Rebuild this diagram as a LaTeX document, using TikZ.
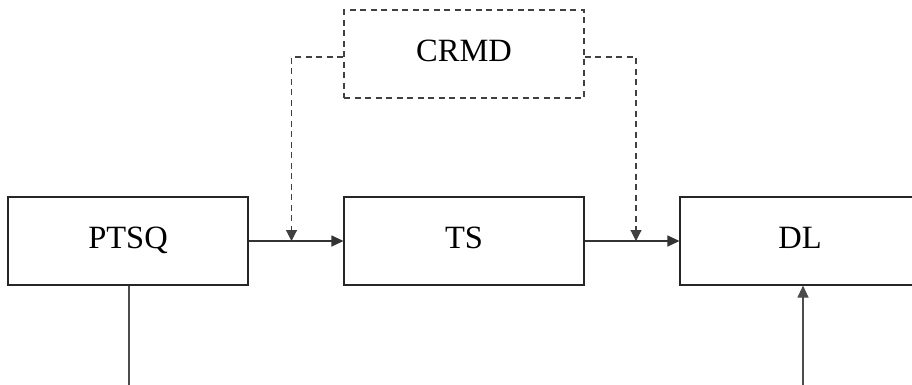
\documentclass[tikz,border=0pt]{standalone}
\usepackage{fontspec}
\setmainfont{Liberation Serif}
\usetikzlibrary{arrows.meta}
\begin{document}
\begin{tikzpicture}[x=1pt,y=-1pt,
  blockbox/.style={draw=black!85,line width=1.1pt,minimum width=240pt,minimum height=88pt,inner sep=0pt,
    font=\fontsize{32.5}{38}\selectfont,text height=22pt,text depth=8pt},
  dashbox/.style={blockbox,draw=black!75,dash pattern=on 6pt off 4.5pt},
  flow/.style={draw=black!80,line width=1.1pt,-{Triangle[length=12pt,width=11pt]}},
  ctrl/.style={draw=black!75,line width=1.1pt,dash pattern=on 6pt off 4.5pt,-{Triangle[length=11pt,width=11pt]}},
  plain/.style={draw=black!70,line width=1.1pt}]
\useasboundingbox (0,0) rectangle (912,384);
\clip (0,0) rectangle (912,384);
\node[blockbox] (ptsq) at (128,241) {PTSQ};
\node[blockbox] (ts) at (464,241) {TS};
\node[blockbox] (dl) at (800,241) {DL};
\node[dashbox] (crmd) at (464,54) {CRMD};
\coordinate (j1) at (291.5,241);
\coordinate (j2) at (636,241);
\coordinate (c1) at (291.5,57);
\coordinate (c2) at (636,57);
\coordinate (b1) at (129,390);
\coordinate (b2) at (803,390);
\draw[flow] (ptsq.east) -- (ts.west);
\draw[flow] (ts.east) -- (dl.west);
\draw[ctrl] (crmd.west |- c1) -- (c1) -- (j1);
\draw[ctrl] (crmd.east |- c2) -- (c2) -- (j2);
\draw[plain] (ptsq.south -| b1) -- (b1);
\draw[flow,draw=black!70] (b2) -- (dl.south -| b2);
\end{tikzpicture}
\end{document}
